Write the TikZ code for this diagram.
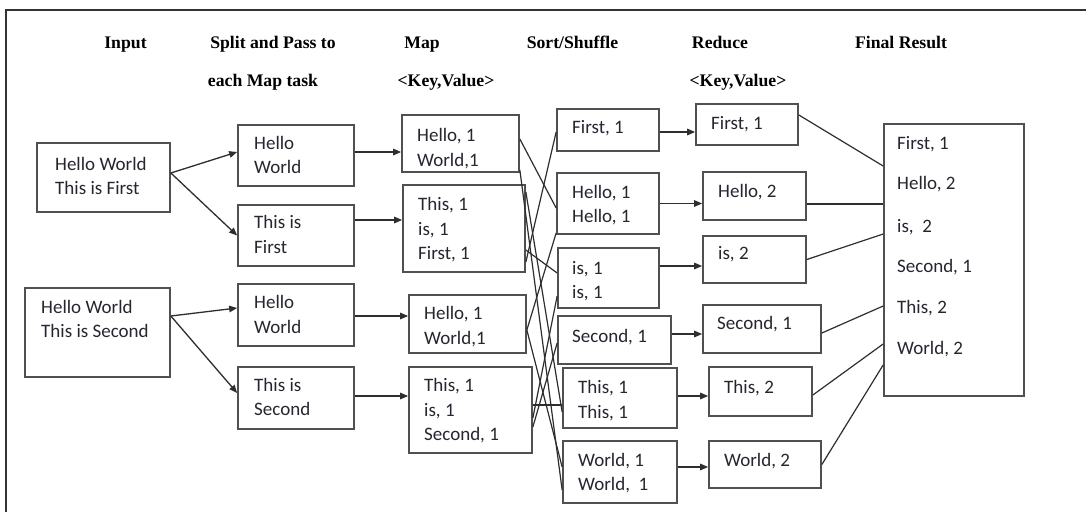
\documentclass[tikz,border=0pt]{standalone}
\usepackage{fontspec}
\setmainfont{Carlito}
\newfontfamily\hdrfont{Liberation Serif}
\usetikzlibrary{arrows.meta,fit,calc}
\definecolor{boxc}{HTML}{505050}
\definecolor{linec}{HTML}{2E2E2E}
\definecolor{txtc}{HTML}{262630}
\newcounter{tn}
\newcommand\tl[3]{\stepcounter{tn}\node[txt] (t\arabic{tn}) at (#1,#2+6) {#3};}
\newcommand\hd[3]{\stepcounter{tn}\node[hdr] (h\arabic{tn}) at (#1,#2+6) {#3};}
\begin{document}
\begin{tikzpicture}[x=1pt,y=-1pt,
 box/.style={draw=boxc, line width=1.7pt, inner sep=0pt},
 txt/.style={anchor=base west, inner sep=0pt, text=txtc, font=\fontsize{19}{22}\selectfont},
 hdr/.style={anchor=base, inner sep=0pt, text=black, font=\hdrfont\bfseries\fontsize{17.7}{20}\selectfont},
 arr/.style={draw=linec, line width=1.3pt, -{Triangle[length=8pt,width=6.5pt]}},
 ln/.style={draw=linec, line width=1.2pt},
 frame/.style={draw=black!80, line width=1.6pt}]
\fill[white] (0,0) rectangle (1086,512);
\useasboundingbox (0,0) rectangle (1086,512);
\draw[frame] (1086,10) -- (6,10) -- (6,512);

% headers
\hd{125.5}{42}{Input}
\hd{273}{42}{Split and Pass to}
\hd{263}{80}{each Map task}
\hd{422}{42}{Map}
\hd{446}{80}{<Key,Value>}
\hd{572.5}{42}{Sort/Shuffle}
\hd{720}{42}{Reduce}
\hd{738}{80}{<Key,Value>}
\hd{901}{42}{Final Result}

% boxes
\node[box, fit={(37,143)(170,212)}] (in1) {};
\node[box, fit={(25,288)(170,377)}] (in2) {};
\node[box, fit={(238,125)(354,186)}] (sp1) {};
\node[box, fit={(238,205)(354,266)}] (sp2) {};
\node[box, fit={(238,284)(354,346)}] (sp3) {};
\node[box, fit={(238,367)(354,429)}] (sp4) {};
\node[box, fit={(402,115)(519,172)}] (m1) {};
\node[box, fit={(403,185)(525,272)}] (m2) {};
\node[box, fit={(409,295)(526,353)}] (m3) {};
\node[box, fit={(409,367)(532,453)}] (m4) {};
\node[box, fit={(557,109)(659,151)}] (s1) {};
\node[box, fit={(557,173)(659,234)}] (s2) {};
\node[box, fit={(558,248)(659,308)}] (s3) {};
\node[box, fit={(558,316)(671,364)}] (s4) {};
\node[box, fit={(563,368)(677,428)}] (s5) {};
\node[box, fit={(563,441)(677,503)}] (s6) {};
\node[box, fit={(696,104)(798,145)}] (r1) {};
\node[box, fit={(703,172)(806,220)}] (r2) {};
\node[box, fit={(703,236)(806,283)}] (r3) {};
\node[box, fit={(703,305)(821,353)}] (r4) {};
\node[box, fit={(709,367)(812,416)}] (r5) {};
\node[box, fit={(709,441)(821,488)}] (r6) {};
\node[box, fit={(884,124)(1024,396)}] (fin) {};

% texts
\tl{55}{164}{Hello World}
\tl{55}{188}{This is First}
\tl{41}{307}{Hello World}
\tl{41}{331}{This is Second}
\tl{254}{143}{Hello}
\tl{254}{167}{World}
\tl{254}{222}{This is}
\tl{254}{247}{First}
\tl{254}{302}{Hello}
\tl{254}{327}{World}
\tl{254}{385}{This is}
\tl{254}{409}{Second}
\tl{417}{135}{Hello, 1}
\tl{417}{160}{World,1}
\tl{418}{204}{This, 1}
\tl{418}{229}{is, 1}
\tl{418}{253}{First, 1}
\tl{424}{313}{Hello, 1}
\tl{424}{338}{World,1}
\tl{424}{385}{This, 1}
\tl{424}{410}{is, 1}
\tl{424}{434}{Second, 1}
\tl{572}{127}{First, 1}
\tl{572}{192}{Hello, 1}
\tl{572}{216}{Hello, 1}
\tl{572}{268}{is, 1}
\tl{572}{292}{is, 1}
\tl{572}{336}{Second, 1}
\tl{578}{387}{This, 1}
\tl{578}{412}{This, 1}
\tl{578}{460}{World, 1}
\tl{578}{484}{World,\ \ 1}
\tl{711}{123}{First, 1}
\tl{718}{191}{Hello, 2}
\tl{718}{253}{is, 2}
\tl{717}{323}{Second, 1}
\tl{724}{387}{This, 2}
\tl{724}{460}{World, 2}
\tl{897}{143}{First, 1}
\tl{897}{183}{Hello, 2}
\tl{897}{226}{is,\ \ 2}
\tl{897}{266}{Second, 1}
\tl{897}{307}{This, 2}
\tl{897}{348}{World, 2}

% input -> split
\draw[arr] ([yshift=4.5pt]in1.east) -- ([yshift=3.5pt]sp1.west);
\draw[arr] ([yshift=4.5pt]in1.east) -- (sp2.west);
\draw[arr] ([yshift=16.5pt]in2.east) -- ([yshift=7pt]sp3.west);
\draw[arr] ([yshift=16.5pt]in2.east) -- ([yshift=5pt]sp4.west);

% split -> map
\coordinate (a1) at ([yshift=3.5pt]sp1.east);
\coordinate (a2) at ([yshift=15.5pt]sp2.east);
\coordinate (a3) at ([yshift=-1pt]sp3.east);
\coordinate (a4) at ([yshift=2pt]sp4.east);
\draw[arr] (a1) -- (a1 -| m1.west);
\draw[arr] (a2) -- (a2 -| m2.west);
\draw[arr] (a3) -- (a3 -| m3.west);
\draw[arr] (a4) -- (a4 -| m4.west);

% map -> sort (shuffle)
\draw[ln] ([yshift=4.5pt]m1.east) -- ([yshift=-4.5pt]s2.west);
\draw[ln] ([yshift=-26.5pt]m1.east) -- ([yshift=-18pt]s6.west);
\draw[ln] ([yshift=36.5pt]m2.east) -- ([yshift=-14pt]s5.west);
\draw[ln] ([yshift=-21.5pt]m2.east) -- ([yshift=5pt]s3.west);
\draw[ln] ([yshift=-33.5pt]m2.east) -- ([yshift=-2pt]s1.west);
\draw[ln] ([yshift=-6pt]m3.east) -- ([yshift=-29.5pt]s2.west);
\draw[ln] ([yshift=-6pt]m3.east) -- ([yshift=5pt]s6.west);
\draw[ln] ([yshift=5pt]m4.east) -- ([yshift=-7pt]s5.west);
\draw[ln] ([yshift=-8pt]m4.east) -- ([yshift=-18pt]s3.west);
\draw[ln] ([yshift=-17pt]m4.east) -- ([yshift=-3pt]s4.west);

% sort -> reduce
\coordinate (b1) at ([yshift=-2pt]s1.east);
\coordinate (b2) at (s2.east);
\coordinate (b3) at ([yshift=12pt]s3.east);
\coordinate (b4) at ([yshift=6pt]s4.east);
\coordinate (b5) at ([yshift=2pt]s5.east);
\coordinate (b6) at ([yshift=5pt]s6.east);
\draw[arr] (b1) -- (b1 -| r1.west);
\draw[arr] (b2) -- (b2 -| r2.west);
\draw[arr] (b3) -- (b3 -| r3.west);
\draw[arr] (b4) -- (b4 -| r4.west);
\draw[arr] (b5) -- (b5 -| r5.west);
\draw[arr] (b6) -- (b6 -| r6.west);

% reduce -> final
\draw[ln] ([yshift=9.5pt]r1.east) -- ([yshift=94pt]fin.west);
\draw[ln] ([yshift=-8pt]r2.east) -- ([yshift=56pt]fin.west);
\draw[ln] (r3.east) -- ([yshift=26pt]fin.west);
\draw[ln] ([yshift=-4pt]r4.east) -- ([yshift=-46pt]fin.west);
\draw[ln] ([yshift=-3.5pt]r5.east) -- ([yshift=-84pt]fin.west);
\draw[ln] (r6.east) -- ([yshift=-105pt]fin.west);
\end{tikzpicture}
\end{document}
